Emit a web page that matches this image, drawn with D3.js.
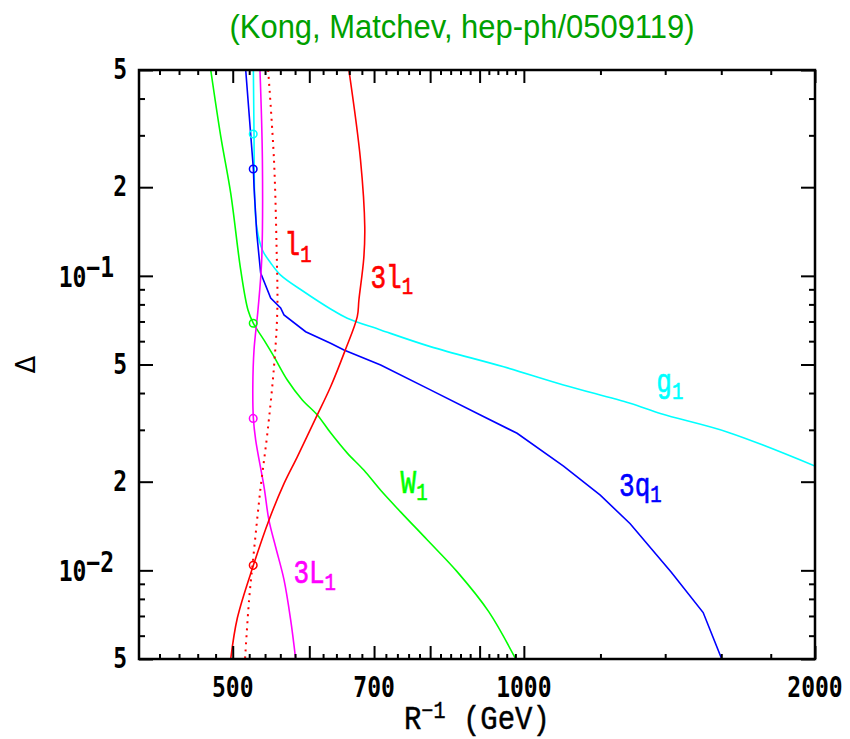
<!DOCTYPE html>
<html>
<head>
<meta charset="utf-8">
<script src="https://cdn.jsdelivr.net/npm/d3@7"></script>
<style>
  body { margin: 0; background: #fff; }
  svg { display: block; }
</style>
</head>
<body>
<svg id="chart" width="850" height="739"></svg>
<script>
// ---- Data: R^-1 (GeV) vs. Delta for the level-1 KK states ----
const rG1  = [525.2, 526, 526.9, 529.4, 536.6, 547.3, 560.4, 591.9, 631.2, 656.8, 711.1, 800.5, 953, 1099, 1288, 1386.6, 1627.8, 2000];
const dG1  = [0.5, 0.3008, 0.181, 0.1465, 0.1224, 0.1106, 0.1006, 0.0885, 0.0772, 0.0718, 0.0655, 0.0575, 0.0491, 0.0426, 0.0369, 0.034, 0.0294, 0.0226];

const rQ1  = [515.7, 525.2, 526, 529.4, 534.4, 547.3, 560.4, 564.9, 594.8, 631.2, 651.6, 711.1, 800.5, 901.7, 984, 1099, 1199.5, 1288, 1420.5, 1532.5, 1601.7];
const dQ1  = [0.5, 0.2306, 0.2008, 0.1398, 0.1022, 0.0841, 0.0778, 0.0737, 0.0646, 0.059, 0.056, 0.0498, 0.041, 0.0337, 0.0292, 0.0226, 0.018, 0.0144, 0.00986, 0.00719, 0.005];

const rW1  = [474.5, 486, 497.6, 509.6, 518.5, 525.2, 538.7, 551.6, 569.4, 590.1, 611.6, 631.2, 656.8, 683.1, 711.1, 745.6, 794.3, 853, 919.7, 980];
const dW1  = [0.5, 0.2968, 0.1908, 0.1047, 0.0766, 0.069, 0.0605, 0.0532, 0.0443, 0.0379, 0.0337, 0.0293, 0.025, 0.0219, 0.0187, 0.0158, 0.0127, 0.0099, 0.00724, 0.00502];

const rL1  = [533.5, 536.6, 535.7, 531, 526, 524.5, 525.2, 528.1, 538.7, 545, 553.8, 564.9, 573.9, 580.8];
const dL1  = [0.5, 0.2474, 0.1132, 0.0766, 0.056, 0.042, 0.0328, 0.0277, 0.0192, 0.0148, 0.012, 0.0093, 0.0068, 0.005];

const rl1  = [544, 551.6, 555, 556, 551.6, 543, 534.4, 526, 519.8, 514.9];
const dl1  = [0.5, 0.2474, 0.1253, 0.0766, 0.0491, 0.0292, 0.0192, 0.0117, 0.0079, 0.005];

const r3l1 = [659.3, 677.8, 684.7, 683.1, 675.2, 672.6, 653, 631.2, 609.1, 583.1, 564.9, 545, 525.2, 505.6, 497.6];
const d3l1 = [0.5, 0.2474, 0.1465, 0.115, 0.0828, 0.0727, 0.0555, 0.042, 0.0328, 0.0243, 0.0197, 0.0148, 0.0104, 0.0069, 0.005];

// Reference point marked on each curve
const markR = 525;
const markD = { g1: 0.303, q1: 0.2306, W1: 0.069, L1: 0.0328, l3: 0.0104 };

// Axis ticks
const xMajor = [500, 600, 700, 800, 900, 1000, 2000];
const xMinor = [420, 440, 460, 480, 520, 540, 560, 580, 620, 640, 660, 680, 720, 740, 760, 780,
                820, 840, 860, 880, 920, 940, 960, 980, 1200, 1400, 1600, 1800];
const xLabels = [500, 700, 1000, 2000];
const yMajor = [0.5, 0.2, 0.1, 0.05, 0.02, 0.01, 0.005];
const yMinor = [0.4, 0.3, 0.09, 0.08, 0.07, 0.06, 0.04, 0.03, 0.009, 0.008, 0.007, 0.006];
const yLabels = [
  { v: 0.5,   base: "5" },
  { v: 0.2,   base: "2" },
  { v: 0.1,   base: "10", exp: "\u22121" },
  { v: 0.05,  base: "5" },
  { v: 0.02,  base: "2" },
  { v: 0.01,  base: "10", exp: "\u22122" },
  { v: 0.005, base: "5" }
];

// ---- Layout ----
const svg = d3.select("#chart");
const L = 139, R = 815, T = 70, B = 659;
const x = d3.scaleLog().domain([400, 2000]).range([L, R]);
const y = d3.scaleLog().domain([0.005, 0.5]).range([B, T]);

const smooth = d3.curveCatmullRom.alpha(0.5);
const curves = [
  { key: "g1", r: rG1,  d: dG1,  color: "#00ffff", curve: smooth },
  { key: "q1", r: rQ1,  d: dQ1,  color: "#0000ff", curve: d3.curveLinear },
  { key: "W1", r: rW1,  d: dW1,  color: "#00ff00", curve: smooth },
  { key: "L1", r: rL1,  d: dL1,  color: "#ff00ff", curve: smooth },
  { key: "l1", r: rl1,  d: dl1,  color: "#ff0000", curve: smooth, dotted: true },
  { key: "l3", r: r3l1, d: d3l1, color: "#ff0000", curve: smooth }
];

const labels = [
  { pre: "l",  sub: "1", R: 565.7,  D: 0.1177, color: "#ff0000" },
  { pre: "3l", sub: "1", R: 694,    D: 0.091,  color: "#ff0000" },
  { pre: "g",  sub: "1", R: 1370.6, D: 0.0403, color: "#00ffff" },
  { pre: "3q", sub: "1", R: 1254.5, D: 0.0179, color: "#0000ff" },
  { pre: "W",  sub: "1", R: 745.6,  D: 0.0183, color: "#00ff00" },
  { pre: "3L", sub: "1", R: 577.7,  D: 0.00904, color: "#ff00ff" }
];

svg.append("defs").append("clipPath").attr("id", "plotclip")
  .append("rect").attr("x", L).attr("y", T).attr("width", R - L).attr("height", B - T);

// Title
svg.append("text")
  .attr("x", 462).attr("y", 38)
  .attr("text-anchor", "middle")
  .attr("font-family", "'Liberation Sans Narrow', 'Liberation Sans', sans-serif")
  .attr("font-size", 33)
  .attr("fill", "#00a000")
  .attr("textLength", 465).attr("lengthAdjust", "spacingAndGlyphs")
  .text("(Kong, Matchev, hep-ph/0509119)");

// Curves
const gCurves = svg.append("g").attr("clip-path", "url(#plotclip)");
curves.forEach(c => {
  const pts = c.r.map((rv, i) => [rv, c.d[i]]);
  const line = d3.line().x(p => x(p[0])).y(p => y(p[1])).curve(c.curve);
  gCurves.append("path")
    .attr("d", line(pts))
    .attr("fill", "none")
    .attr("stroke", c.color)
    .attr("stroke-width", c.dotted ? 2 : 1.6)
    .attr("stroke-dasharray", c.dotted ? "2,5" : null);
});

// Markers
curves.filter(c => markD[c.key] !== undefined).forEach(c => {
  svg.append("circle")
    .attr("cx", x(markR)).attr("cy", y(markD[c.key])).attr("r", 3.8)
    .attr("fill", "none").attr("stroke", c.color).attr("stroke-width", 1.5);
});

// Axes (ticks only; the frame is drawn separately)
function tickAxis(axisGen, scale, vals, size, tx, ty) {
  const g = svg.append("g").attr("transform", `translate(${tx},${ty})`)
    .call(axisGen(scale).tickValues(vals).tickSize(-size).tickFormat(""));
  g.select(".domain").remove();
  g.selectAll(".tick line").attr("stroke", "#000").attr("stroke-width", 2);
}
tickAxis(d3.axisBottom, x, xMajor, 13, 0, B);
tickAxis(d3.axisBottom, x, xMinor, 5, 0, B);
tickAxis(d3.axisTop, x, xMajor, 13, 0, T);
tickAxis(d3.axisTop, x, xMinor, 5, 0, T);
tickAxis(d3.axisLeft, y, yMajor, 14, L, 0);
tickAxis(d3.axisLeft, y, yMinor, 6, L, 0);
tickAxis(d3.axisRight, y, yMajor, 14, R, 0);
tickAxis(d3.axisRight, y, yMinor, 6, R, 0);

// Frame
svg.append("rect").attr("x", L).attr("y", T).attr("width", R - L).attr("height", B - T)
  .attr("fill", "none").attr("stroke", "#000").attr("stroke-width", 2.5);

// Tick labels (tall monospace digits)
const tickFont = "'DejaVu Sans Mono', monospace";
const stretch = 1.22;
svg.append("g").selectAll("g").data(xLabels).join("g")
  .attr("transform", d => `translate(${x(d)},697) scale(1,${stretch})`)
  .append("text")
  .attr("text-anchor", "middle")
  .attr("font-family", tickFont).attr("font-weight", "bold").attr("font-size", 23)
  .text(d => d);

const yg = svg.append("g").selectAll("g").data(yLabels).join("g")
  .attr("transform", d => d.exp
    ? `translate(114,${y(d.v) + 11}) scale(1,${stretch})`
    : `translate(127,${y(d.v) + 9}) scale(1,${stretch})`);
const yl = yg.append("text")
  .attr("font-family", tickFont).attr("font-weight", "bold").attr("font-size", 23)
  .attr("text-anchor", "end");
yl.filter(d => !d.exp).text(d => d.base);
yl.filter(d => d.exp).each(function (d) {
  const t = d3.select(this);
  t.append("tspan").text(d.base);
  t.append("tspan").attr("dy", -8).text(d.exp);
});

// Axis titles
const xt = svg.append("g").attr("transform", `translate(477,729) scale(1,1.15)`)
  .append("text").attr("text-anchor", "middle")
  .attr("font-family", "'Liberation Mono', monospace").attr("font-size", 29)
  .attr("stroke", "#000").attr("stroke-width", 0.4);
xt.append("tspan").text("R");
xt.append("tspan").attr("dy", -10).attr("font-size", 20).text("\u22121");
xt.append("tspan").attr("dy", 10).text(" (GeV)");

svg.append("text")
  .attr("transform", `translate(35,${y(0.05)}) rotate(-90)`)
  .attr("text-anchor", "middle")
  .attr("font-family", "'DejaVu Sans', sans-serif").attr("font-size", 26)
  .text("\u0394");

// Curve labels
labels.forEach(lb => {
  const t = svg.append("g")
    .attr("transform", `translate(${x(lb.R)},${y(lb.D)}) scale(1,1.3)`)
    .append("text")
    .attr("fill", lb.color).attr("stroke", lb.color).attr("stroke-width", 0.5)
    .attr("font-family", "'Liberation Mono', monospace").attr("font-size", 26);
  t.append("tspan").text(lb.pre);
  t.append("tspan").attr("dy", 5).attr("font-size", 19).text(lb.sub);
});
</script>
</body>
</html>
